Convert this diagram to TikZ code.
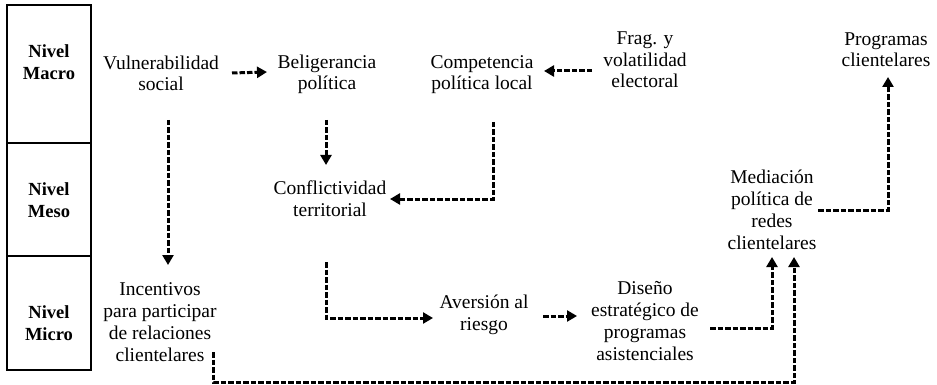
\documentclass[tikz,border=0pt]{standalone}
\usepackage{fontspec}
\setmainfont{Liberation Serif}
\usetikzlibrary{arrows.meta}
\begin{document}
\begin{tikzpicture}[x=1pt,y=-1pt,
  txt/.style={align=center, inner sep=0pt, anchor=base, font=\fontsize{19.5}{21.7}\selectfont},
  lvl/.style={align=center, inner sep=0pt, anchor=base, font=\fontsize{18.5}{22}\selectfont\bfseries},
  arr/.style={line width=3pt, dash pattern=on 5.5pt off 2pt, -{Triangle[length=10pt,width=11pt]}},
  frame/.style={line width=1.2pt}]
\useasboundingbox (0,0) rectangle (937,385);
% level frame
\draw[frame] (7,5) rectangle (91,370);
\draw[frame] (7,143) -- (91,143);
\draw[frame] (7,256) -- (91,256);
\node[lvl] (macro) at (49,80) {Nivel\\Macro};
\node[lvl] (meso) at (49,217) {Nivel\\Meso};
\node[lvl] (micro) at (49,340) {Nivel\\Micro};
% concepts (base = last line baseline)
\node[txt] (vuln) at (161,91) {Vulnerabilidad\\social};
\node[txt] (belig) at (327,90) {Beligerancia\\política};
\node[txt] (comp) at (482,90) {Competencia\\política local};
\node[txt] (frag) at (645,88) {Frag. y\\volatilidad\\electoral};
\node[txt] (prog) at (886,67) {Programas\\clientelares};
\node[txt] (confl) at (330,216) {Conflictividad\\territorial};
\node[txt] (medi) at (772,249) {Mediación\\política de\\redes\\clientelares};
\node[txt] (incent) at (160,361) {Incentivos\\para participar\\de relaciones\\clientelares};
\node[txt] (avers) at (484,330) {Aversión al\\riesgo};
\node[txt] (dis) at (645,360) {Diseño\\estratégico de\\programas\\asistenciales};
% connectors
\draw[arr] ([shift={(71,-18)}]vuln.base) -- ([shift={(-60,-18)}]belig.base);
\draw[arr] ([shift={(-53,-17)}]frag.base) -- ([shift={(62,-19)}]comp.base);
\draw[arr] ([shift={(-1,30)}]belig.base) -- ([shift={(-4,-51)}]confl.base);
\draw[arr] ([shift={(11,32)}]comp.base) |- ([shift={(60,-17)}]confl.base);
\draw[arr] ([shift={(7,29)}]vuln.base) -- ([shift={(8,-96)}]incent.base);
\draw[arr] ([shift={(-4,46)}]confl.base) |- ([shift={(-51,-12)}]avers.base);
\draw[arr] ([shift={(59,-14)}]avers.base) -- ([shift={(-68,-44)}]dis.base);
\draw[arr] ([shift={(65,-32)}]dis.base) -| ([shift={(0,8)}]medi.base);
\draw[arr] ([shift={(53,-9)}]incent.base) -- ++(0,30) -| ([shift={(22,8)}]medi.base);
\draw[arr] ([shift={(46,-39)}]medi.base) -| ([shift={(2,10)}]prog.base);
\end{tikzpicture}
\end{document}
